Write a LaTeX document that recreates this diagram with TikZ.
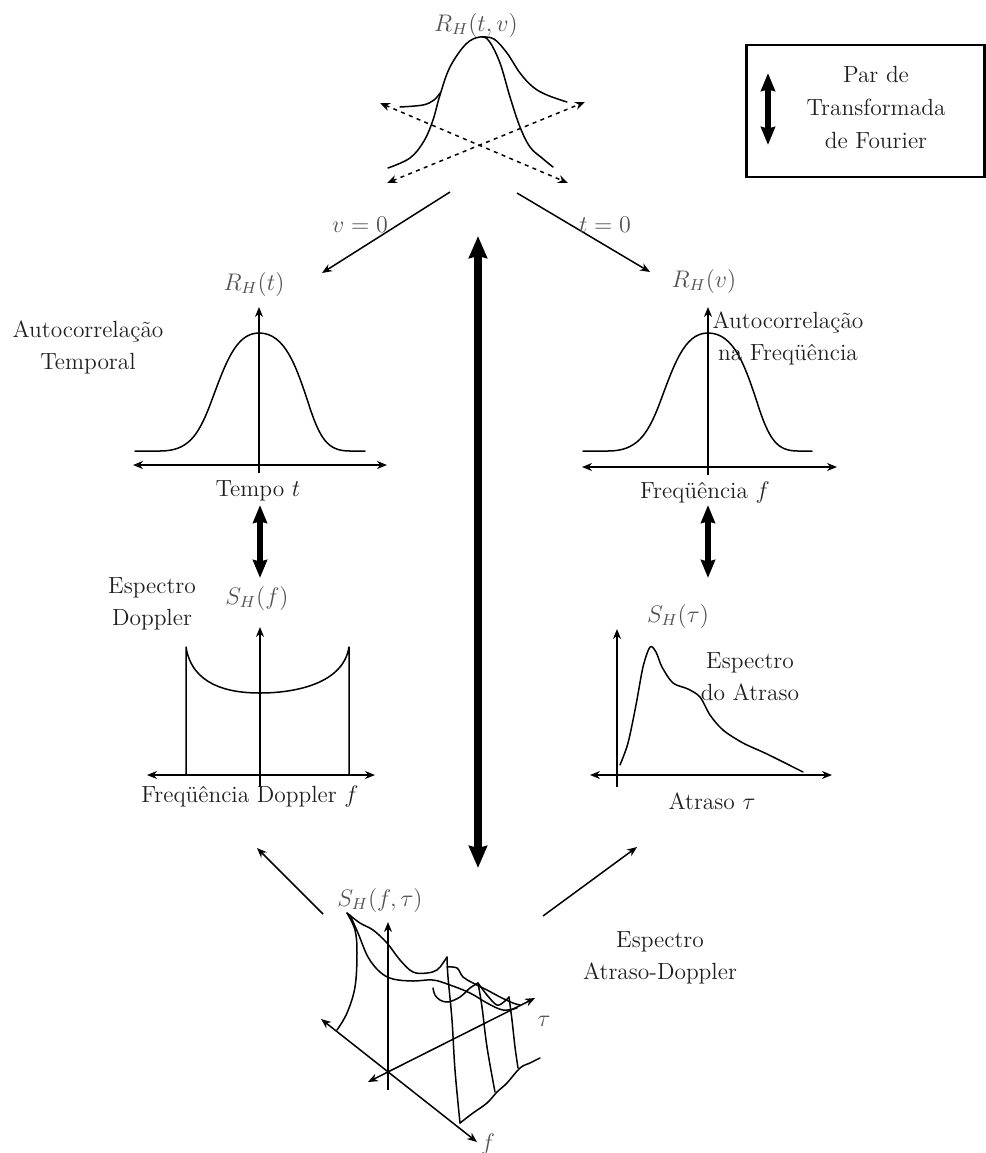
\documentclass[tikz,border=0pt]{standalone}
\usepackage{fontspec}
\usetikzlibrary{arrows.meta}
\begin{document}
\begin{tikzpicture}[x=0.5pt,y=-0.5pt,
  font=\fontsize{11.7}{16}\selectfont,
  ln/.style={line width=0.75pt, line join=round, line cap=round},
  ax/.style={ln, line cap=butt, {Stealth[length=5pt,width=4pt]}-{Stealth[length=5pt,width=4pt]}},
  axup/.style={ln, line cap=butt, -{Stealth[length=5pt,width=4pt]}},
  dsh/.style={line width=0.75pt, dash pattern=on 2pt off 2.2pt, {Stealth[length=5pt,width=4pt]}-{Stealth[length=5pt,width=4pt]}},
  thin arrow/.style={line width=0.75pt, -{Stealth[length=5pt,width=4pt]}},
  big arrow/.style={line width=3.6pt, {Stealth[length=11pt,width=9pt,inset=1pt]}-{Stealth[length=11pt,width=9pt,inset=1pt]}},
  fourier/.style={line width=2.6pt, {Stealth[length=9pt,width=7pt,inset=0.8pt]}-{Stealth[length=9pt,width=7pt,inset=0.8pt]}},
  mlab/.style={text=black!68, inner sep=0pt},
  txt/.style={text=black!88, align=center, inner sep=0pt},
]
\useasboundingbox (0,0) rectangle (986,1153);

% ---------------- legend ----------------
\node[draw, line width=1.1pt, minimum width=119pt, minimum height=66pt, inner sep=0pt] (legbox) at (865.5,111) {};
\coordinate (legA) at (768,73);
\coordinate (legB) at (768,145);
\draw[fourier] (legA) -- (legB);
\node[txt, font=\fontsize{11.7}{16.5}\selectfont] (legtxt) at (876,107) {Par de\\Transformada\\de Fourier};

% ---------------- top surface R_H(t,v) ----------------
\node[mlab] (Rtv) at (476,25) {$R_H(t,v)$};
\draw[ln] plot[smooth, tension=0.6] coordinates {(388,168) (410,158) (424,141) (433,120) (440,95) (450,67) (466,44) (480,37) (489,41) (500,63) (510,97) (520,127) (530,147) (542,158) (553,167)};
\draw[ln] plot[smooth, tension=0.6] coordinates {(400,107) (423,105) (434,100) (440,93)};
\draw[ln] plot[smooth, tension=0.6] coordinates {(482,37) (494,39) (507,53) (520,73) (533,87) (547,95) (567,102)};
\coordinate (d1a) at (380,103);
\coordinate (d1b) at (568,183);
\coordinate (d2a) at (387,183);
\coordinate (d2b) at (585,102);
\draw[dsh] (d1a) -- (d1b);
\draw[dsh] (d2a) -- (d2b);

% ---------------- projection arrows ----------------
\coordinate (pvA) at (450,192);
\coordinate (pvB) at (322,273);
\coordinate (ptA) at (517,193);
\coordinate (ptB) at (650,272);
\draw[thin arrow] (pvA) -- (pvB);
\draw[thin arrow] (ptA) -- (ptB);
\node[mlab] (v0) at (360,225) {$v=0$};
\node[mlab] (t0) at (605,225) {$t=0$};

% ---------------- big Fourier arrow ----------------
\coordinate (bigA) at (478,236);
\coordinate (bigB) at (478,868);
\draw[big arrow] (bigA) -- (bigB);

% ---------------- R_H(t) ----------------
\node[mlab] (Rt) at (254,284) {$R_H(t)$};
\node[txt] (autot) at (88,347) {Autocorrelação\\Temporal};
\coordinate (tL) at (133,465);
\coordinate (tR) at (387,465);
\coordinate (tO) at (259,473);
\coordinate (tT) at (259,307);
\draw[ax] (tL) -- (tR);
\draw[axup] (tO) -- (tT);
\draw[ln] (135,451) -- (160,451) .. controls (188,451) and (198,436) .. (210,405)
  .. controls (225,365) and (235,333) .. (259,333)
  .. controls (285,333) and (296,366) .. (308,402)
  .. controls (320,440) and (328,451) .. (350,451) -- (365,451);
\node[txt] (tempo) at (258,491) {Tempo $t$};

% ---------------- R_H(v) ----------------
\node[mlab] (Rv) at (704,281) {$R_H(v)$};
\coordinate (vL) at (582,467);
\coordinate (vR) at (837,467);
\coordinate (vO) at (708,475);
\coordinate (vT) at (708,307);
\draw[ax] (vL) -- (vR);
\draw[axup] (vO) -- (vT);
\draw[ln] (583,451) -- (608,451) .. controls (636,451) and (647,436) .. (659,405)
  .. controls (674,365) and (684,333) .. (708,333)
  .. controls (734,333) and (745,366) .. (757,402)
  .. controls (769,440) and (777,451) .. (798,451) -- (812,451);
\node[txt] (autof) at (788,338) {Autocorrelação\\na Freqüência};
\node[txt] (freq) at (705,492) {Freqüência $f$};

% ---------------- small Fourier arrows ----------------
\coordinate (fLa) at (260,505);
\coordinate (fLb) at (260,578);
\coordinate (fRa) at (708,505);
\coordinate (fRb) at (708,578);
\draw[fourier] (fLa) -- (fLb);
\draw[fourier] (fRa) -- (fRb);

% ---------------- S_H(f) ----------------
\node[mlab] (Sf) at (257,598) {$S_H(f)$};
\node[txt] (espD) at (152,604) {Espectro\\Doppler};
\coordinate (sfL) at (147,775);
\coordinate (sfR) at (375,775);
\coordinate (sfO) at (260,787);
\coordinate (sfT) at (260,627);
\draw[ax] (sfL) -- (sfR);
\draw[axup] (sfO) -- (sfT);
\draw[ln] (186,775) -- (186,647) .. controls (192,685) and (228,693) .. (260,693) .. controls (292,693) and (343,685) .. (349,647) -- (349,775);
\node[txt] (freqD) at (250,796) {Freqüência Doppler $f$};

% ---------------- S_H(tau) ----------------
\node[mlab] (Stau) at (678,616) {$S_H(\tau)$};
\node[txt] (espA) at (750,677) {Espectro\\do Atraso};
\coordinate (stL) at (590,775);
\coordinate (stR) at (832,775);
\coordinate (stO) at (617,787);
\coordinate (stT) at (617,629);
\draw[ax] (stL) -- (stR);
\draw[axup] (stO) -- (stT);
\draw[ln] plot[smooth, tension=0.5] coordinates {(620,765) (628,743) (636,705) (643,667) (650,647) (656,652) (662,667) (673,683) (688,689) (700,697) (710,715) (723,730) (743,743) (767,754) (803,772)};
\node[txt] (atraso) at (712,801) {Atraso $\tau$};

% ---------------- diagonal arrows ----------------
\coordinate (dlA) at (323,914);
\coordinate (dlB) at (257,848);
\coordinate (drA) at (543,916);
\coordinate (drB) at (637,847);
\draw[thin arrow] (dlA) -- (dlB);
\draw[thin arrow] (drA) -- (drB);

% ---------------- S_H(f,tau) ----------------
\node[mlab] (Sft) at (380,900) {$S_H(f,\tau)$};
\node[txt] (espAD) at (660,958) {Espectro\\Atraso-Doppler};
\coordinate (orig) at (388,1072);
\coordinate (fA) at (321,1019);
\coordinate (fB) at (477,1142);
\coordinate (tauA) at (368,1082);
\coordinate (tauB) at (535,998);
\coordinate (zT) at (388,922);
\coordinate (zB) at (388,1090);
\draw[ax] (fA) -- (fB);
\draw[ax] (tauA) -- (tauB);
\draw[axup] (zB) -- (zT);
\node[mlab] (flab) at (488,1144) {$f$};
\node[mlab] (taulab) at (544,1021) {$\tau$};
% surface sketch
\draw[ln] plot[smooth, tension=0.6] coordinates {(347,913) (355,930) (357,953) (355,987) (347,1013) (337,1030)};
\draw[ln] plot[smooth, tension=0.6] coordinates {(347,913) (360,923) (373,930) (387,943) (400,960) (413,972) (427,973) (437,970) (443,963) (447,957)};
\draw[ln] plot[smooth, tension=0.6] coordinates {(350,915) (358,933) (368,957) (380,972) (393,979) (413,981) (433,980) (450,985) (470,993) (487,1003) (503,1010) (517,1008)};
\draw[ln] plot[smooth, tension=0.6] coordinates {(447,967) (457,968) (463,977) (473,983) (487,990) (500,997) (513,1003) (520,1005)};
\draw[ln] plot[smooth, tension=0.6] coordinates {(433,988) (435,995) (440,1000) (448,1002) (460,997) (470,988) (478,983)};
\draw[ln] plot[smooth, tension=0.6] coordinates {(478,983) (487,995) (497,1005) (505,1001) (509,997)};
\draw[ln] plot[smooth, tension=0.6] coordinates {(447,957) (448,977) (452,1020) (455,1070) (460,1123)};
\draw[ln] plot[smooth, tension=0.6] coordinates {(478,983) (482,1007) (487,1047) (495,1092)};
\draw[ln] plot[smooth, tension=0.6] coordinates {(509,997) (512,1020) (515,1047) (518,1068)};
\draw[ln] plot[smooth, tension=0.6] coordinates {(460,1123) (473,1113) (487,1103) (497,1092) (507,1083) (520,1068) (530,1063) (540,1058)};
\end{tikzpicture}
\end{document}
